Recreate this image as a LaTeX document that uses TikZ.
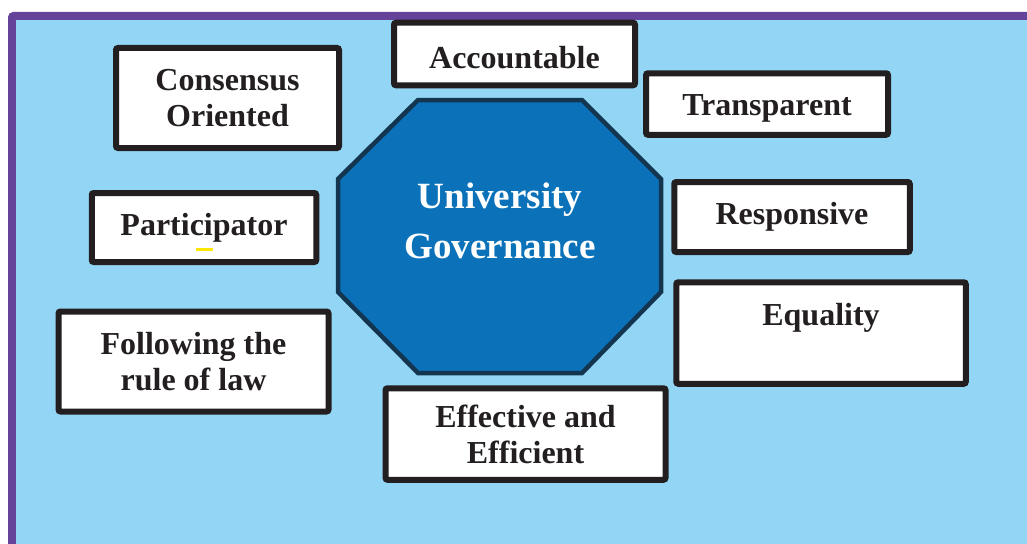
\documentclass[tikz,border=0pt]{standalone}
\usepackage{fontspec}
\setmainfont{Liberation Serif}
\definecolor{framepurple}{HTML}{65439A}
\definecolor{sky}{HTML}{93D5F5}
\definecolor{octfill}{HTML}{0B72BA}
\definecolor{octline}{HTML}{13354F}
\definecolor{ink}{HTML}{231F20}
\tikzset{
	item/.style={draw=ink,line width=6pt,rounded corners=2pt,fill=white,inner sep=0pt,align=center,text=ink,font=\fontsize{32}{36.5}\selectfont\bfseries},
}
\begin{document}
\begin{tikzpicture}[x=1pt,y=-1pt]
		\useasboundingbox (0,0) rectangle (1027,543);
		\clip (0,0) rectangle (1027,543);
		\fill[framepurple,rounded corners=5pt] (8,12) rectangle (1060,580);
		\fill[sky] (16,20) rectangle (1060,580);
		\draw[octline,fill=octfill,line width=4.5pt] (418,100)--(582,100)--(661,179)--(661,292)--(582,373)--(418,373)--(338,292)--(338,179)--cycle;
		\node[text=white,align=center,text depth=-3pt,font=\fontsize{37}{50}\selectfont\bfseries](gov) at (500,220.5) {University\\Governance};
		\node[item,minimum width=223pt,minimum height=100pt,text depth=-4pt](cons) at (227.5,98) {Consensus\\Oriented};
		\node[item,minimum width=241pt,minimum height=62.5pt,text height=30pt](acc) at (514.5,54) {Accountable};
		\node[item,minimum width=242pt,minimum height=61.5pt,text height=29pt](trans) at (767,104) {Transparent};
		\node[item,minimum width=235.5pt,minimum height=70pt](resp) at (792,217) {Responsive};
		\node[item,minimum width=289.5pt,minimum height=101.5pt](equal) at (821,333) {Equality\\\phantom{E}};
		\node[item,minimum width=224.5pt,minimum height=69pt](part) at (204,227.5) {Participator};
		\node[item,minimum width=270pt,minimum height=100pt](law) at (193.5,361.5) {Following the\\rule of law};
		\node[item,minimum width=280pt,minimum height=91.5pt,text depth=-6pt](eff) at (525.5,434) {Effective and\\Efficient};
		\fill[yellow!90!orange](196,248)rectangle(213,251);
	\end{tikzpicture}
\end{document}
